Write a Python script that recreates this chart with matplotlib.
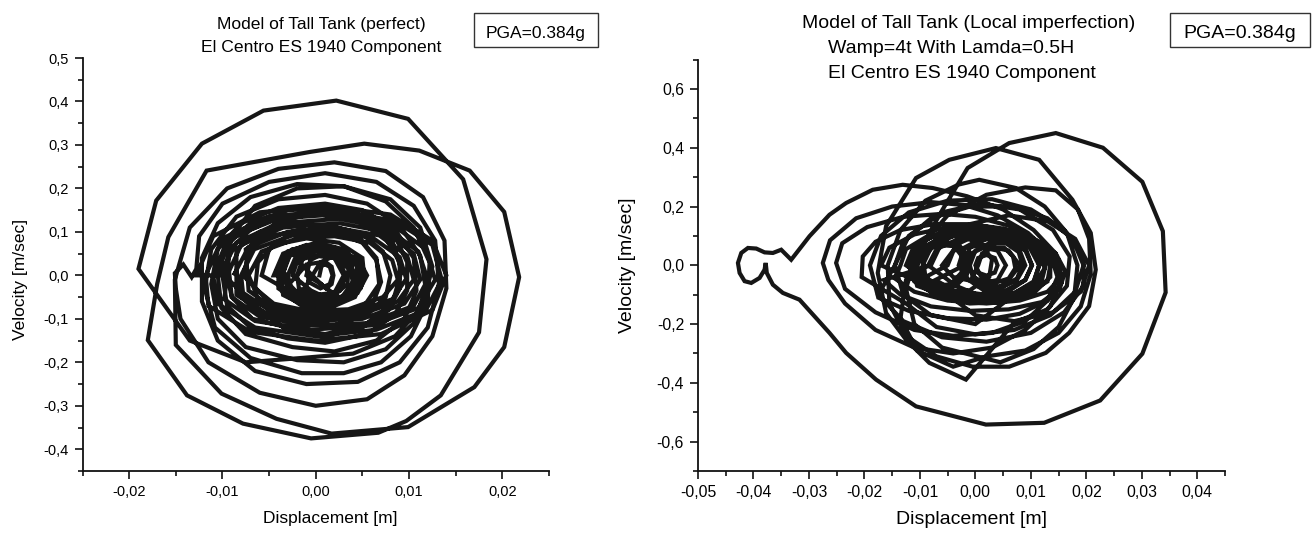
import numpy as np
import matplotlib
matplotlib.use("Agg")
import matplotlib.pyplot as plt
from matplotlib.patches import Rectangle
from matplotlib.ticker import MultipleLocator, FuncFormatter

plt.rcParams['font.family'] = ['Liberation Sans', 'DejaVu Sans']

# ---- perfect tank: displacement [m] / velocity [m/s], one loop per line ----
perfect_disp = [
    0.0004, 0.0006, 0.0011, 0.0017, 0.0019, 0.0017, 0.0011, 0.0006,
    -0.0010, -0.0006, 0.0008, 0.0025, 0.0032, 0.0026, 0.0010, -0.0005,
    -0.0025, -0.0018, 0.0000, 0.0022, 0.0038, 0.0040, 0.0028, 0.0005, -0.0017,
    -0.0058, -0.0050, -0.0025, 0.0012, 0.0045, 0.0065, 0.0068, 0.0052, 0.0020, -0.0020, -0.0048,
    -0.0078, -0.0068, -0.0040, 0.0005, 0.0050, 0.0082, 0.0092, 0.0082, 0.0052, 0.0010, -0.0035, -0.0065,
    -0.0098, -0.0090, -0.0065, -0.0020, 0.0030, 0.0080, 0.0112, 0.0125, 0.0115, 0.0085, 0.0040, -0.0015, -0.0075, -0.0135,
    -0.0190, -0.0171, -0.0122, -0.0056, 0.0022, 0.0099, 0.0158, 0.0183, 0.0175, 0.0134, 0.0097, 0.0067, -0.0005, -0.0078, -0.0138, -0.0180,
    -0.0170, -0.0158, -0.0117, -0.0006, 0.0052, 0.0111, 0.0165, 0.0202, 0.0218, 0.0202, 0.0170, 0.0099, 0.0017, -0.0042, -0.0101, -0.0150,
    -0.0151, -0.0135, -0.0095, -0.0040, 0.0020, 0.0075, 0.0115, 0.0138, 0.0140, 0.0125, 0.0095, 0.0055, 0.0000, -0.0060, -0.0115, -0.0145,
    -0.0150, -0.0151, -0.0142, -0.0133, -0.0128, -0.0125, -0.0100, -0.0050, 0.0010, 0.0065, 0.0105, 0.0128, 0.0132, 0.0120, 0.0090, 0.0045, -0.0010, -0.0065, -0.0105, -0.0122,
    -0.0122, -0.0105, -0.0070, -0.0020, 0.0030, 0.0075, 0.0105, 0.0122, 0.0120, 0.0102, 0.0070, 0.0030, -0.0015, -0.0070, -0.0108, -0.0119,
    -0.0112, -0.0085, -0.0040, 0.0010, 0.0055, 0.0090, 0.0112, 0.0118, 0.0105, 0.0075, 0.0030, -0.0020, -0.0075, -0.0105, -0.0112,
    -0.0105, -0.0080, -0.0040, 0.0010, 0.0050, 0.0085, 0.0105, 0.0108, 0.0095, 0.0065, 0.0020, -0.0025, -0.0075, -0.0101, -0.0105,
    -0.0095, -0.0070, -0.0030, 0.0015, 0.0055, 0.0085, 0.0098, 0.0098, 0.0085, 0.0055, 0.0010, -0.0030, -0.0070, -0.0095, -0.0100,
    -0.0128, -0.0110, -0.0060, 0.0010, 0.0080, 0.0125, 0.0140, 0.0125, 0.0070, 0.0000, -0.0070, -0.0115,
    -0.0118, -0.0100, -0.0050, 0.0020, 0.0085, 0.0125, 0.0135, 0.0118, 0.0065, 0.0000, -0.0065, -0.0105,
    -0.0110, -0.0095, -0.0045, 0.0020, 0.0080, 0.0118, 0.0128, 0.0110, 0.0060, -0.0005, -0.0065, -0.0098,
    -0.0092, -0.0070, -0.0035, 0.0005, 0.0045, 0.0075, 0.0090, 0.0090, 0.0078, 0.0050, 0.0010, -0.0030, -0.0068, -0.0090, -0.0093,
    -0.0102, -0.0085, -0.0040, 0.0025, 0.0075, 0.0110, 0.0120, 0.0105, 0.0055, -0.0010, -0.0060, -0.0090,
    -0.0095, -0.0080, -0.0035, 0.0025, 0.0075, 0.0105, 0.0112, 0.0095, 0.0050, -0.0010, -0.0055, -0.0085,
    -0.0085, -0.0060, -0.0025, 0.0015, 0.0050, 0.0072, 0.0080, 0.0075, 0.0055, 0.0020, -0.0020, -0.0060, -0.0082, -0.0085,
    -0.0088, -0.0072, -0.0030, 0.0020, 0.0068, 0.0098, 0.0105, 0.0088, 0.0045, -0.0010, -0.0050, -0.0078,
    -0.0080, -0.0066, -0.0025, 0.0022, 0.0062, 0.0090, 0.0097, 0.0082, 0.0042, -0.0008, -0.0048, -0.0072,
    -0.0075, -0.0050, -0.0015, 0.0020, 0.0050, 0.0065, 0.0070, 0.0062, 0.0040, 0.0010, -0.0030, -0.0060, -0.0068,
    -0.0072, -0.0058, -0.0020, 0.0020, 0.0058, 0.0082, 0.0088, 0.0072, 0.0035, -0.0008, -0.0045, -0.0065,
    -0.0062, -0.0045, -0.0010, 0.0025, 0.0050, 0.0052, 0.0042, 0.0015, -0.0015, -0.0035, -0.0040,
    -0.0045, -0.0035, -0.0010, 0.0020, 0.0042, 0.0048, 0.0035, 0.0008, -0.0020, -0.0040,
    -0.0040, -0.0030, -0.0005, 0.0025, 0.0045, 0.0045, 0.0030, 0.0000, -0.0028, -0.0038,
    -0.0030, 0.0000, 0.0030, 0.0048, 0.0053, 0.0048, 0.0030, 0.0000, -0.0025, -0.0030,
    -0.0035, -0.0028, -0.0005, 0.0020, 0.0038, 0.0040, 0.0028, 0.0000, -0.0025, -0.0033,
    -0.0030, -0.0022, 0.0000, 0.0022, 0.0035, 0.0034, 0.0020, -0.0003, -0.0022,
    -0.0042, -0.0030, 0.0000, 0.0030, 0.0045, 0.0040, 0.0020, -0.0010, -0.0035,
    -0.0038, -0.0025, 0.0005, 0.0035, 0.0048, 0.0042, 0.0015, -0.0015, -0.0033,
    -0.0020, -0.0012, 0.0012, 0.0035, 0.0042, 0.0035, 0.0010, -0.0015,
    0.0005, 0.0025, 0.0045, 0.0055, 0.0045, 0.0025, 0.0008,
    -0.0020, 0.0000, 0.0020, 0.0030, 0.0020, 0.0000, -0.0018, -0.0020,
    -0.0010, 0.0005, 0.0015, 0.0018, 0.0015, 0.0005, -0.0008, -0.0008,
]
perfect_vel = [
    0.0, 0.02, 0.03, 0.02, 0.0, -0.02, -0.03, -0.02,
    0.0, 0.035, 0.05, 0.035, 0.0, -0.035, -0.05, -0.035,
    0.0, 0.045, 0.065, 0.058, 0.02, -0.02, -0.055, -0.068, -0.05,
    0.0, 0.06, 0.10, 0.11, 0.09, 0.04, -0.02, -0.07, -0.10, -0.10, -0.065,
    0.0, 0.075, 0.125, 0.145, 0.13, 0.08, 0.01, -0.065, -0.115, -0.135, -0.12, -0.07,
    0.0, 0.09, 0.16, 0.20, 0.205, 0.175, 0.11, 0.02, -0.07, -0.14, -0.18, -0.19, -0.20, -0.15,
    0.015, 0.172, 0.303, 0.379, 0.402, 0.360, 0.221, 0.037, -0.131, -0.276, -0.335, -0.362, -0.375, -0.341, -0.276, -0.149,
    -0.020, 0.088, 0.241, 0.284, 0.303, 0.287, 0.241, 0.146, -0.004, -0.165, -0.257, -0.349, -0.364, -0.330, -0.272, -0.160,
    -0.010, 0.110, 0.200, 0.245, 0.260, 0.240, 0.180, 0.080, -0.030, -0.140, -0.230, -0.285, -0.300, -0.270, -0.200, -0.100,
    -0.030, 0.005, 0.025, -0.004, 0.015, 0.090, 0.165, 0.215, 0.235, 0.215, 0.160, 0.080, -0.020, -0.120, -0.200, -0.245, -0.250, -0.220, -0.150, -0.060,
    0.040, 0.120, 0.180, 0.210, 0.205, 0.170, 0.110, 0.030, -0.060, -0.140, -0.200, -0.225, -0.225, -0.190, -0.120, -0.030,
    0.060, 0.135, 0.175, 0.185, 0.165, 0.115, 0.045, -0.030, -0.110, -0.170, -0.200, -0.195, -0.165, -0.100, -0.020,
    0.060, 0.120, 0.155, 0.165, 0.150, 0.105, 0.040, -0.035, -0.100, -0.150, -0.175, -0.165, -0.135, -0.075, 0.000,
    0.070, 0.120, 0.150, 0.155, 0.135, 0.090, 0.030, -0.035, -0.090, -0.135, -0.155, -0.145, -0.120, -0.070, 0.000,
    0.000, 0.090, 0.145, 0.160, 0.140, 0.080, 0.000, -0.080, -0.135, -0.150, -0.130, -0.070,
    0.000, 0.085, 0.135, 0.150, 0.125, 0.070, -0.010, -0.080, -0.125, -0.140, -0.120, -0.065,
    0.000, 0.080, 0.130, 0.140, 0.120, 0.060, -0.010, -0.075, -0.115, -0.125, -0.105, -0.055,
    0.060, 0.105, 0.135, 0.140, 0.125, 0.085, 0.030, -0.030, -0.080, -0.120, -0.140, -0.120, -0.100, -0.050, 0.010,
    0.005, 0.075, 0.120, 0.130, 0.110, 0.055, -0.010, -0.070, -0.110, -0.115, -0.095, -0.050,
    0.000, 0.070, 0.110, 0.120, 0.100, 0.050, -0.010, -0.065, -0.100, -0.105, -0.085, -0.045,
    0.060, 0.100, 0.118, 0.115, 0.095, 0.055, 0.000, -0.050, -0.090, -0.115, -0.110, -0.090, -0.045, 0.010,
    0.000, 0.065, 0.100, 0.110, 0.092, 0.045, -0.010, -0.060, -0.092, -0.098, -0.080, -0.040,
    0.000, 0.060, 0.092, 0.100, 0.085, 0.042, -0.008, -0.055, -0.085, -0.090, -0.072, -0.035,
    0.060, 0.090, 0.105, 0.100, 0.075, 0.035, -0.015, -0.060, -0.090, -0.105, -0.095, -0.065, -0.020,
    0.000, 0.055, 0.085, 0.090, 0.075, 0.035, -0.010, -0.050, -0.078, -0.082, -0.065, -0.030,
    0.030, 0.070, 0.085, 0.075, 0.040, -0.005, -0.050, -0.075, -0.070, -0.040, 0.000,
    0.000, 0.050, 0.070, 0.065, 0.035, -0.010, -0.050, -0.070, -0.060, -0.030,
    0.000, 0.048, 0.068, 0.060, 0.025, -0.020, -0.055, -0.068, -0.050, -0.020,
    0.045, 0.060, 0.055, 0.030, 0.000, -0.030, -0.050, -0.060, -0.040, 0.000,
    0.005, 0.045, 0.060, 0.055, 0.025, -0.015, -0.050, -0.060, -0.045, -0.015,
    0.000, 0.040, 0.055, 0.045, 0.015, -0.020, -0.045, -0.052, -0.035,
    0.010, 0.055, 0.075, 0.060, 0.020, -0.030, -0.065, -0.072, -0.045,
    0.000, 0.060, 0.070, 0.050, 0.010, -0.040, -0.070, -0.065, -0.030,
    0.000, 0.050, 0.065, 0.040, 0.000, -0.045, -0.062, -0.040,
    0.030, 0.050, 0.040, 0.000, -0.040, -0.050, -0.025,
    0.035, 0.045, 0.040, 0.000, -0.040, -0.045, -0.030, 0.000,
    0.025, 0.030, 0.020, 0.000, -0.020, -0.030, -0.015, 0.000,
]

# ---- local imperfection tank ----
imperf_disp = [
    0.001, -0.004, -0.006, -0.004, 0.001, 0.006, 0.008, 0.006,
    0.002, -0.005, -0.009, -0.0095, -0.006, 0.0, 0.006, 0.011, 0.0125, 0.010, 0.006,
    0.0, -0.008, -0.013, -0.0145, -0.012, -0.006, 0.001, 0.008, 0.014, 0.017, 0.0165, 0.013, 0.007,
    -0.0017, -0.0083, -0.0125, -0.0161, -0.0176, -0.0161, -0.0107, -0.0047, 0.0037, 0.0115, 0.0175, 0.0208, 0.0217, 0.0205, 0.0169, 0.0127, 0.0061,
    -0.0005, -0.007, -0.0125, -0.0155, -0.0158, -0.0135, -0.009, -0.003, 0.0007, 0.0073, 0.0125, 0.0165, 0.0184, 0.0178, 0.015, 0.0105, 0.0045,
    -0.006, -0.011, -0.0125, -0.0105, -0.005, 0.002, 0.009, 0.0145, 0.0185, 0.0205, 0.0208, 0.019, 0.015, 0.009, 0.002,
    -0.004, -0.0105, -0.0135, -0.0125, -0.0095, -0.0059,
    -0.0014, 0.0061, 0.0145, 0.0230, 0.0301, 0.0338, 0.0343, 0.0301, 0.0225, 0.0124, 0.0019, -0.0107, -0.0179,
    -0.0233, -0.0263, -0.0317, -0.0347, -0.0365, -0.0376, -0.0378, -0.0380, -0.0389, -0.0404, -0.0416, -0.0425, -0.0428,
    -0.0422, -0.0410, -0.0395, -0.0380, -0.0365, -0.0350, -0.0332, -0.0299, -0.0263, -0.0233, -0.0185, -0.0131, -0.0077,
    -0.0015, 0.005, 0.0105, 0.0145, 0.0155, 0.0135, 0.009, 0.003, -0.004, -0.011, -0.018,
    -0.0235, -0.0265, -0.0275, -0.0262, -0.0215, -0.015, -0.008, -0.002, 0.004, 0.0095, 0.0135, 0.0148, 0.013, 0.009, 0.003, -0.004, -0.011, -0.018,
    -0.0235, -0.0251, -0.024, -0.0195, -0.013, -0.006, 0.0, 0.006, 0.0115, 0.0148, 0.0155, 0.013, 0.008, 0.002, -0.005, -0.012, -0.0175,
    -0.019, -0.017, -0.012, -0.005, 0.003, 0.010, 0.016, 0.0195, 0.0195, 0.016, 0.010, 0.002, -0.006, -0.013, -0.0175,
    -0.0145, -0.013, -0.008, -0.001, 0.0065, 0.013, 0.0175, 0.0195, 0.018, 0.0135, 0.007, 0.0, -0.007, -0.0125,
    -0.0205, -0.0203, -0.018, -0.0135, -0.0075, -0.001, 0.005, 0.0105, 0.0145, 0.0162, 0.0152, 0.012, 0.006, -0.001, -0.008, -0.0135, -0.0165,
    -0.008, -0.006, -0.001, 0.006, 0.013, 0.018, 0.0205, 0.019, 0.014, 0.007, 0.0, -0.005,
    -0.017, -0.0155, -0.011, -0.005, 0.001, 0.007, 0.012, 0.015, 0.0155, 0.013, 0.008, 0.002, -0.005, -0.011, -0.0145,
    -0.0135, -0.0125, -0.009, -0.004, 0.002, 0.0075, 0.0115, 0.0135, 0.013, 0.0095, 0.004, -0.002, -0.0075, -0.011,
    -0.012, -0.0105, -0.006, 0.0, 0.006, 0.0105, 0.0135, 0.0135, 0.0105, 0.005, -0.001, -0.0065, -0.0105,
    -0.0105, -0.009, -0.005, 0.0005, 0.0065, 0.011, 0.0128, 0.012, 0.0085, 0.003, -0.003, -0.0075, -0.0098,
    -0.0095, -0.008, -0.004, 0.001, 0.006, 0.0098, 0.0115, 0.0105, 0.007, 0.002, -0.003, -0.007,
    -0.0125, -0.0112, -0.008, -0.003, 0.001, 0.003, 0.0025, -0.001, -0.006, -0.0105,
    -0.0115, -0.0105, -0.0075, -0.004, -0.002, -0.0018, -0.004, -0.0075, -0.0105,
    -0.011, -0.0098, -0.007, -0.0038, -0.0022, -0.0025, -0.0045, -0.0078, -0.0102,
    -0.0105, -0.009, -0.0062, -0.003, -0.0012, -0.0015, -0.0035, -0.007, -0.0095,
    -0.005, -0.0035, 0.0005, 0.006, 0.0105, 0.0115, 0.0105, 0.0065, 0.001, -0.0035,
    -0.0085, -0.007, -0.003, 0.0015, 0.006, 0.009, 0.0102, 0.009, 0.006, 0.001, -0.004, -0.0072,
    -0.002, -0.001, 0.002, 0.006, 0.0092, 0.0102, 0.009, 0.0055, 0.0015, -0.0012,
    -0.003, -0.002, 0.001, 0.005, 0.008, 0.009, 0.0075, 0.004, 0.0,
    -0.001, 0.0, 0.0025, 0.0055, 0.0078, 0.0085, 0.0075, 0.005, 0.002, -0.0002,
    -0.0015, -0.0008, 0.0015, 0.004, 0.0055, 0.004, 0.0015, -0.0005,
    0.0005, 0.0012, 0.003, 0.0052, 0.0068, 0.0072, 0.006, 0.0035, 0.0012,
    0.0, 0.0005, 0.002, 0.0035, 0.004, 0.0035, 0.002, 0.0005,
]
imperf_vel = [
    -0.06, -0.04, 0.0, 0.05, 0.07, 0.05, 0.0, -0.05,
    -0.11, -0.09, -0.04, 0.03, 0.09, 0.12, 0.11, 0.06, -0.01, -0.08, -0.115,
    -0.20, -0.17, -0.10, 0.0, 0.10, 0.18, 0.21, 0.19, 0.12, 0.03, -0.07, -0.15, -0.195,
    -0.389, -0.332, -0.253, -0.162, -0.026, 0.133, 0.297, 0.359, 0.399, 0.359, 0.223, 0.110, -0.015, -0.139, -0.230, -0.298, -0.345,
    -0.345, -0.31, -0.24, -0.13, 0.0, 0.12, 0.22, 0.275, 0.291, 0.263, 0.20, 0.11, 0.0, -0.11, -0.21, -0.285, -0.33,
    -0.28, -0.20, -0.08, 0.05, 0.17, 0.24, 0.265, 0.255, 0.19, 0.09, -0.03, -0.14, -0.23, -0.29, -0.31,
    -0.345, -0.29, -0.18, -0.05, 0.07, 0.19,
    0.331, 0.416, 0.450, 0.400, 0.284, 0.116, -0.0925, -0.301, -0.46, -0.536, -0.542, -0.480, -0.389,
    -0.298, -0.230, -0.117, -0.094, -0.066, -0.026, 0.008, -0.015, -0.043, -0.060, -0.054, -0.026, 0.008,
    0.042, 0.059, 0.057, 0.044, 0.042, 0.053, 0.019, 0.099, 0.172, 0.212, 0.257, 0.274, 0.263,
    0.235, 0.19, 0.12, 0.04, -0.05, -0.14, -0.22, -0.28, -0.30, -0.28, -0.22,
    -0.13, -0.05, 0.008, 0.085, 0.16, 0.20, 0.215, 0.205, 0.17, 0.11, 0.04, -0.04, -0.12, -0.19, -0.23, -0.24, -0.22, -0.16,
    -0.08, 0.008, 0.075, 0.13, 0.165, 0.175, 0.165, 0.135, 0.08, 0.01, -0.06, -0.12, -0.165, -0.185, -0.18, -0.155, -0.11,
    0.0, 0.10, 0.18, 0.22, 0.225, 0.19, 0.12, 0.03, -0.07, -0.16, -0.23, -0.26, -0.245, -0.19, -0.10,
    0.0, 0.08, 0.16, 0.20, 0.20, 0.16, 0.09, 0.0, -0.09, -0.17, -0.22, -0.235, -0.21, -0.13,
    -0.04, 0.03, 0.08, 0.12, 0.14, 0.14, 0.125, 0.09, 0.04, -0.02, -0.08, -0.125, -0.15, -0.155, -0.14, -0.10, -0.05,
    0.0, 0.08, 0.14, 0.17, 0.15, 0.09, 0.0, -0.09, -0.16, -0.19, -0.17, -0.10,
    0.0, 0.06, 0.105, 0.13, 0.135, 0.115, 0.075, 0.02, -0.04, -0.09, -0.12, -0.13, -0.12, -0.09, -0.045,
    0.0, 0.055, 0.095, 0.115, 0.115, 0.095, 0.055, 0.0, -0.055, -0.095, -0.115, -0.115, -0.095, -0.055,
    0.0, 0.07, 0.115, 0.13, 0.12, 0.08, 0.02, -0.04, -0.095, -0.125, -0.13, -0.11, -0.06,
    0.0, 0.065, 0.105, 0.12, 0.11, 0.07, 0.01, -0.05, -0.095, -0.118, -0.115, -0.09, -0.045,
    0.0, 0.06, 0.10, 0.11, 0.10, 0.06, 0.0, -0.055, -0.095, -0.108, -0.10, -0.07,
    0.0, 0.06, 0.095, 0.10, 0.075, 0.02, -0.04, -0.085, -0.10, -0.07,
    0.0, 0.05, 0.08, 0.075, 0.03, -0.02, -0.07, -0.085, -0.05,
    0.0, 0.045, 0.07, 0.065, 0.025, -0.025, -0.065, -0.07, -0.04,
    0.0, 0.05, 0.075, 0.07, 0.03, -0.03, -0.07, -0.075, -0.045,
    0.0, 0.07, 0.105, 0.10, 0.06, 0.0, -0.06, -0.10, -0.105, -0.07,
    0.0, 0.055, 0.09, 0.10, 0.09, 0.05, 0.0, -0.05, -0.088, -0.098, -0.085, -0.05,
    0.0, 0.06, 0.09, 0.088, 0.05, 0.0, -0.05, -0.085, -0.085, -0.05,
    0.0, 0.06, 0.09, 0.085, 0.05, 0.0, -0.05, -0.08, -0.07,
    0.0, 0.05, 0.075, 0.075, 0.045, 0.0, -0.045, -0.072, -0.07, -0.04,
    0.0, 0.04, 0.06, 0.05, 0.0, -0.05, -0.06, -0.04,
    0.0, 0.04, 0.06, 0.06, 0.03, -0.01, -0.045, -0.06, -0.045,
    0.0, 0.025, 0.035, 0.025, 0.0, -0.025, -0.035, -0.025,
]

assert len(perfect_disp) == len(perfect_vel)
assert len(imperf_disp) == len(imperf_vel)

titles_left = ["Model of Tall Tank (perfect)", "El Centro ES 1940 Component"]
titles_right = ["Model of Tall Tank (Local imperfection)", "Wamp=4t With Lamda=0.5H",
                "El Centro ES 1940 Component"]
pga_text = "PGA=0.384g"

W, H = 1314, 534
fig = plt.figure(figsize=(W / 100, H / 100), dpi=100)
LINE = '#161616'


def px(x, y):
    # pixel position -> figure fraction
    return x / W, 1 - y / H


def comma(fmt):
    def f(v, pos):
        if abs(v) < 1e-9:
            v = 0.0
        return (fmt % v).replace('.', ',')
    return FuncFormatter(f)


def style_axes(ax, xmaj, xmin, ymaj, ymin, xfmt, yfmt, fs):
    for s in ('top', 'right'):
        ax.spines[s].set_visible(False)
    for s in ('left', 'bottom'):
        ax.spines[s].set_linewidth(1.3)
        ax.spines[s].set_color('#111111')
    ax.xaxis.set_major_locator(MultipleLocator(xmaj))
    ax.xaxis.set_minor_locator(MultipleLocator(xmin))
    ax.yaxis.set_major_locator(MultipleLocator(ymaj))
    ax.yaxis.set_minor_locator(MultipleLocator(ymin))
    ax.xaxis.set_major_formatter(comma(xfmt))
    ax.yaxis.set_major_formatter(comma(yfmt))
    ax.tick_params(which='major', direction='out', length=6, width=1.2, labelsize=fs, pad=4,
                   color='#111111')
    ax.tick_params(which='minor', direction='out', length=3.5, width=1.2, color='#111111')


# ---------- left panel ----------
x0, y1 = px(82.5, 58)
x1, y0 = px(549, 471)
axL = fig.add_axes([x0, y0, x1 - x0, y1 - y0])
axL.plot(perfect_disp, perfect_vel, color=LINE, lw=3.0, solid_joinstyle='miter')
axL.set_xlim(-0.025, 0.025)
axL.set_ylim(-0.45, 0.5)
style_axes(axL, 0.01, 0.005, 0.1, 0.05, '%.2f', '%.1f', 10.5)
axL.set_xlabel("Displacement [m]", fontsize=12.5)
axL.set_ylabel("Velocity [m/sec]", fontsize=12.5)
axL.xaxis.set_label_coords((330 - 82.5) / 466.5, (471 - 519) / 413)
axL.xaxis.label.set_va('center')
axL.yaxis.set_label_coords((20.7 - 82.5) / 466.5, (471 - 279) / 413)
axL.yaxis.label.set_va('center')

tx, ty = px(321, 28.5)
fig.text(tx, ty, titles_left[0], ha='center', va='baseline', fontsize=12.6)
tx, ty = px(321, 52)
fig.text(tx, ty, titles_left[1], ha='center', va='baseline', fontsize=12.6)

bx, by = px(474, 47)
fig.patches.append(Rectangle((bx, by), 124 / W, 34 / H, transform=fig.transFigure,
                             fill=False, edgecolor='#333333', lw=1.0))
tx, ty = px(536, 38)
fig.text(tx, ty, pga_text, ha='center', va='baseline', fontsize=12.5)

# ---------- right panel ----------
x0, y1 = px(698, 59.6)
x1, y0 = px(1225, 471)
axR = fig.add_axes([x0, y0, x1 - x0, y1 - y0])
axR.plot(imperf_disp, imperf_vel, color=LINE, lw=3.0, solid_joinstyle='miter')
axR.set_xlim(-0.05, 0.045)
axR.set_ylim(-0.7, 0.7)
style_axes(axR, 0.01, 0.005, 0.2, 0.1, '%.2f', '%.1f', 11.3)
axR.set_xlabel("Displacement [m]", fontsize=14)
axR.set_ylabel("Velocity [m/sec]", fontsize=14)
axR.xaxis.set_label_coords((972 - 698) / 527, (471 - 519) / 411.4)
axR.xaxis.label.set_va('center')
axR.yaxis.set_label_coords((627 - 698) / 527, (471 - 265) / 411.4)
axR.yaxis.label.set_va('center')

tx, ty = px(969, 28.5)
fig.text(tx, ty, titles_right[0], ha='center', va='baseline', fontsize=14)
tx, ty = px(828, 53)
fig.text(tx, ty, titles_right[1], ha='left', va='baseline', fontsize=14)
tx, ty = px(828, 77.5)
fig.text(tx, ty, titles_right[2], ha='left', va='baseline', fontsize=14)

bx, by = px(1170, 47)
fig.patches.append(Rectangle((bx, by), 140 / W, 34 / H, transform=fig.transFigure,
                             fill=False, edgecolor='#333333', lw=1.0))
tx, ty = px(1240, 37.5)
fig.text(tx, ty, pga_text, ha='center', va='baseline', fontsize=14)

fig.savefig("out.png", dpi=100)
